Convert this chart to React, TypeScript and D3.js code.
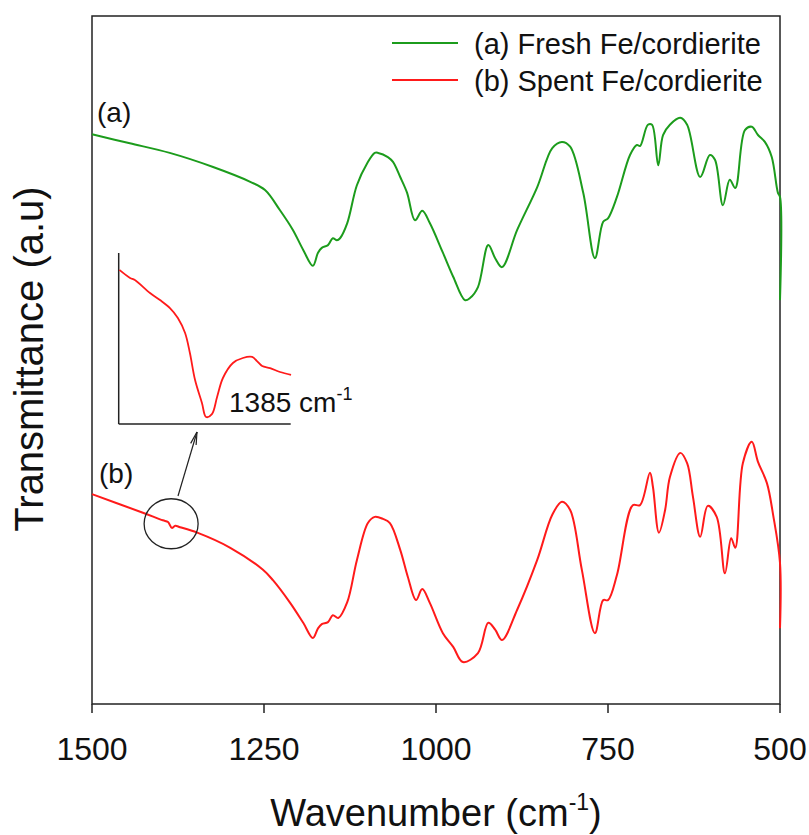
import React from "react";
import * as d3 from "d3";

// Main spectra: wavenumber (cm-1) and transmittance (a.u.)
const freshWn = [1500, 1445, 1387, 1324, 1270, 1248.5, 1227, 1208, 1193, 1179, 1171.5, 1166, 1157, 1150, 1144, 1139.5, 1129, 1115, 1100, 1089, 1084, 1070, 1062.5, 1052, 1042, 1030.5, 1020, 1009, 990, 975, 958, 950.6, 939, 924, 914, 904, 882, 853, 831, 817, 805, 786, 769, 757, 750, 737, 718, 708, 703.5, 692, 686, 677, 670, 660, 645, 635, 616, 602, 594.5, 583, 573, 565, 551, 541, 532, 522, 512, 503, 500, 500];
const freshT = [82.8, 81.5, 80.1, 78.05, 75.9, 74.7, 71.8, 68.9, 66.0, 63.7, 65.6, 66.3, 66.7, 67.7, 67.4, 67.7, 69.9, 75.4, 78.6, 80.1, 80.1, 79.5, 78.8, 76.6, 74.3, 70.3, 71.7, 69.9, 65.6, 62.1, 58.7, 59.0, 60.6, 66.7, 64.8, 63.5, 68.9, 75.1, 80.8, 81.7, 81.0, 74.3, 64.8, 70.1, 70.6, 73.7, 79.8, 81.25, 81.1, 84.2, 84.2, 78.3, 82.7, 84.2, 85.2, 84.2, 76.6, 79.8, 79.1, 72.5, 76.2, 75.0, 83.4, 83.9, 82.7, 81.7, 79.5, 74.3, 73.7, 58.7];

const spentWn = [1500, 1426, 1397, 1389.5, 1384, 1379, 1372, 1347, 1299, 1251.5, 1237, 1212, 1193, 1179, 1171.5, 1166, 1157, 1150, 1142, 1129, 1115, 1099, 1089, 1077, 1067, 1052, 1041, 1029, 1020, 1009, 990, 975, 961, 939, 924, 914, 904, 882, 853, 831, 817, 805, 788, 769, 757, 750, 737, 714, 703.5, 689, 684.6, 676, 667, 660, 645, 635, 626.5, 616, 605, 592, 580, 571, 565, 554, 541, 532, 519, 510, 500, 500];
const spentT = [30.5, 27.8, 26.7, 26.45, 25.6, 25.9, 25.7, 24.9, 22.7, 19.5, 18.0, 14.7, 11.8, 9.6, 11.0, 11.6, 11.9, 12.9, 12.5, 14.8, 20.9, 26.3, 27.2, 26.9, 26.3, 22.4, 18.5, 15.1, 16.7, 14.7, 10.3, 8.3, 6.1, 7.4, 11.8, 10.8, 9.3, 13.7, 20.9, 27.5, 29.4, 28.2, 19.5, 10.3, 15.1, 15.1, 18.75, 28.9, 28.9, 33.6, 31.5, 24.9, 28.2, 33.0, 36.5, 35.0, 30.1, 24.3, 28.8, 27.2, 19.0, 24.1, 22.7, 35.0, 38.1, 35.2, 32.1, 27.5, 20.5, 11.0];

// Inset: zoom on the 1385 cm-1 band of the spent sample
const insetWn = [1409.8, 1406.7, 1405.3, 1400.9, 1398, 1395.1, 1392.8, 1390.7, 1389.3, 1387.8, 1385.8, 1384.6, 1382.9, 1381.4, 1379.7, 1376.8, 1373.9, 1371.2, 1369.8, 1368.3, 1366, 1363.1, 1359.9];
const insetT = [0.901, 0.854, 0.842, 0.766, 0.725, 0.678, 0.62, 0.532, 0.415, 0.257, 0.123, 0.041, 0.058, 0.158, 0.269, 0.357, 0.386, 0.392, 0.368, 0.339, 0.327, 0.304, 0.287];

const xTicks = [1500, 1250, 1000, 750, 500];
const seriesNames = ["(a) Fresh Fe/cordierite", "(b) Spent Fe/cordierite"];
const seriesColors = ["#1c9c1c", "#ff1a1a"];

const FONT = "'Liberation Sans', Arial, Helvetica, sans-serif";

export default function App() {
  const W = 809, H = 835;
  const left = 92, right = 780, top = 16, bottom = 704;
  const x = d3.scaleLinear().domain([1500, 500]).range([left, right]);
  const y = d3.scaleLinear().domain([0, 100]).range([bottom, top]);

  const line = d3
    .line<[number, number]>()
    .x((d) => x(d[0]))
    .y((d) => y(d[1]))
    .curve(d3.curveCatmullRom.alpha(0.5));

  const fresh = freshWn.map((w, i) => [w, freshT[i]] as [number, number]);
  const spent = spentWn.map((w, i) => [w, spentT[i]] as [number, number]);

  // inset scales
  const ix = d3.scaleLinear().domain([1410, 1360]).range([118.7, 290.7]);
  const iy = d3.scaleLinear().domain([0, 1]).range([424, 253]);
  const insetLine = d3
    .line<[number, number]>()
    .x((d) => ix(d[0]))
    .y((d) => iy(d[1]))
    .curve(d3.curveCatmullRom.alpha(0.5));
  const inset = insetWn.map((w, i) => [w, insetT[i]] as [number, number]);

  // circle around the 1385 band
  const cx = x(1385);
  const cy = y(26.2);

  // arrow
  const ax1 = 178, ay1 = 496, ax2 = 197, ay2 = 432;
  const ang = Math.atan2(ay2 - ay1, ax2 - ax1);
  const barb = 13;
  const spread = 0.22;
  const b1x = ax2 - barb * Math.cos(ang - spread);
  const b1y = ay2 - barb * Math.sin(ang - spread);
  const b2x = ax2 - barb * Math.cos(ang + spread);
  const b2y = ay2 - barb * Math.sin(ang + spread);

  return (
    <svg
      width={W}
      height={H}
      style={{ position: "absolute", left: 0, top: 0, background: "#fff" }}
      fontFamily={FONT}
    >
      <rect x={0} y={0} width={W} height={H} fill="#fff" />
      {/* frame */}
      <rect x={left} y={top} width={right - left} height={bottom - top} fill="none" stroke="#222" strokeWidth={1.5} />

      {/* x ticks */}
      {xTicks.map((t) => (
        <g key={t}>
          <line x1={x(t)} x2={x(t)} y1={bottom} y2={bottom + 9} stroke="#222" strokeWidth={1.5} />
          <text x={x(t)} y={760} fontSize={32} textAnchor="middle" fill="#111">
            {t}
          </text>
        </g>
      ))}

      {/* axis titles */}
      <text x={436} y={826} fontSize={38} textAnchor="middle" fill="#111">
        Wavenumber (cm
        <tspan fontSize={23} dy={-16}>-1</tspan>
        <tspan dy={16}>)</tspan>
      </text>
      <text transform="translate(43,359) rotate(-90)" fontSize={40} textAnchor="middle" fill="#111">
        Transmittance (a.u)
      </text>

      {/* spectra */}
      <path d={line(fresh) || ""} fill="none" stroke={seriesColors[0]} strokeWidth={2} />
      <path d={line(spent) || ""} fill="none" stroke={seriesColors[1]} strokeWidth={2} />

      {/* curve labels */}
      <text x={97} y={122} fontSize={28} fill="#111">(a)</text>
      <text x={99} y={483} fontSize={28} fill="#111">(b)</text>

      {/* legend */}
      {seriesNames.map((n, i) => (
        <g key={n}>
          <line x1={392} x2={458} y1={43 + i * 37} y2={43 + i * 37} stroke={seriesColors[i]} strokeWidth={2} />
          <text x={474} y={54 + i * 37} fontSize={29} fill="#111">{n}</text>
        </g>
      ))}

      {/* inset */}
      <line x1={118.7} x2={118.7} y1={253} y2={424} stroke="#222" strokeWidth={1.5} />
      <line x1={118.7} x2={290.7} y1={424} y2={424} stroke="#222" strokeWidth={1.5} />
      <path d={insetLine(inset) || ""} fill="none" stroke={seriesColors[1]} strokeWidth={1.8} />
      <text x={229} y={412} fontSize={28} fill="#111">
        1385 cm
        <tspan fontSize={18} dy={-12}>-1</tspan>
      </text>

      {/* circle + arrow */}
      <ellipse cx={cx} cy={cy} rx={27} ry={25} fill="none" stroke="#222" strokeWidth={1.3} />
      <line x1={ax1} y1={ay1} x2={ax2} y2={ay2} stroke="#222" strokeWidth={1.2} />
      <line x1={ax2} y1={ay2} x2={b1x} y2={b1y} stroke="#222" strokeWidth={1.2} />
      <line x1={ax2} y1={ay2} x2={b2x} y2={b2y} stroke="#222" strokeWidth={1.2} />
    </svg>
  );
}
